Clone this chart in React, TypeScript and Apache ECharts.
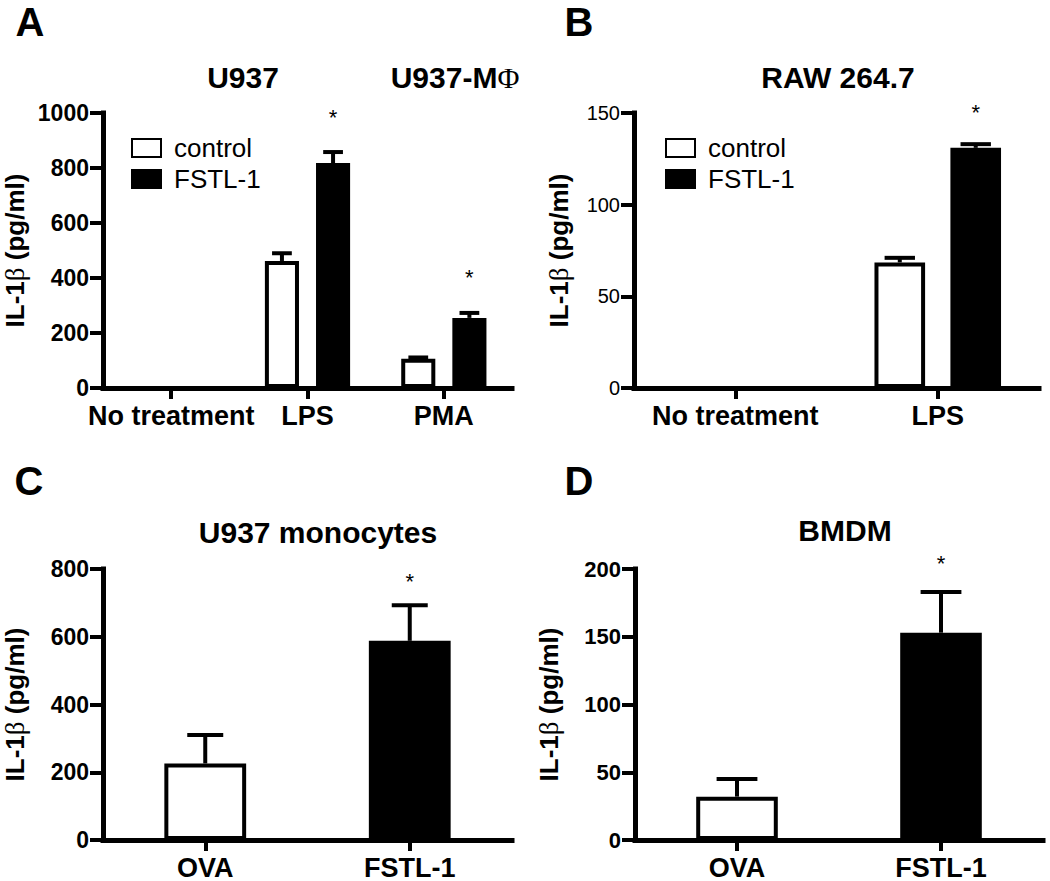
import React, { useEffect, useRef } from "react";
import * as echarts from "echarts";

// Panel A: U937 / U937-MΦ
const categoriesA = ["No treatment", "LPS", "PMA"];
const controlA = [0, 462, 106];
const controlErrA = [0, 28, 5];
const fstlA = [0, 818, 255];
const fstlErrA = [0, 40, 18];
const sigFstlA = [false, true, true];

// Panel B: RAW 264.7
const categoriesB = ["No treatment", "LPS"];
const controlB = [0, 68.5];
const controlErrB = [0, 2.5];
const fstlB = [0, 131];
const fstlErrB = [0, 2];
const sigFstlB = [false, true];

// Panel C: U937 monocytes
const categoriesC = ["OVA", "FSTL-1"];
const valuesC = [226, 588];
const errC = [84, 105];
const sigC = [false, true];

// Panel D: BMDM
const categoriesD = ["OVA", "FSTL-1"];
const valuesD = [32, 153];
const errD = [13, 30];
const sigD = [false, true];

const yTicksA = { min: 0, max: 1000, interval: 200 };
const yTicksB = { min: 0, max: 150, interval: 50 };
const yTicksC = { min: 0, max: 800, interval: 200 };
const yTicksD = { min: 0, max: 200, interval: 50 };

const FONT = "'Liberation Sans', Arial, Helvetica, sans-serif";
const SERIF = "'Liberation Serif', 'DejaVu Serif', serif";
const YNAME = "IL-1{g|β} (pg/ml)";

function errorSeries(
  idx: number,
  values: number[],
  errs: number[],
  sigs: boolean[],
  slot: number,
  nSlots: number,
  barFrac: number,
  gapFrac: number,
  capFrac: number,
  starGap: number
) {
  return {
    type: "custom",
    xAxisIndex: idx,
    yAxisIndex: idx,
    z: 5,
    clip: false,
    silent: true,
    data: values.map((v, i) => [i, v, errs[i], sigs[i] ? 1 : 0]),
    renderItem: (params: any, api: any) => {
      const i = api.value(0);
      const v = api.value(1);
      const e = api.value(2);
      const s = api.value(3);
      const base = api.coord([i, v]);
      const top = api.coord([i, v + e]);
      const band = api.size([1, 0])[0];
      const bw = band * barFrac;
      const gap = bw * gapFrac;
      const total = nSlots * bw + (nSlots - 1) * gap;
      const cx = base[0] - total / 2 + bw / 2 + slot * (bw + gap);
      const cap = bw * capFrac;
      const children: any[] = [];
      if (e > 0) {
        children.push({
          type: "line",
          shape: { x1: cx, y1: base[1], x2: cx, y2: top[1] },
          style: { stroke: "#000", lineWidth: 4 },
        });
        children.push({
          type: "line",
          shape: { x1: cx - cap / 2, y1: top[1], x2: cx + cap / 2, y2: top[1] },
          style: { stroke: "#000", lineWidth: 4 },
        });
      }
      if (s) {
        children.push({
          type: "text",
          x: cx,
          y: top[1] - starGap + 5,
          style: {
            text: "*",
            fontSize: 22,
            fontFamily: FONT,
            fill: "#000",
            align: "center",
            verticalAlign: "middle",
          },
        });
      }
      return { type: "group", children };
    },
  };
}

function xAxis(idx: number, cats: string[]) {
  return {
    type: "category",
    gridIndex: idx,
    data: cats,
    axisLine: { show: true, lineStyle: { color: "#000", width: 5, cap: "square" } },
    axisTick: { show: true, alignWithLabel: true, interval: 0, length: 11, lineStyle: { color: "#000", width: 4 } },
    axisLabel: { color: "#000", fontSize: 27, fontWeight: "bold", fontFamily: FONT, margin: 14, interval: 0 },
    splitLine: { show: false },
  };
}

function yAxis(idx: number, t: any, gap: number, labelSize: number, labelWeight: string) {
  return {
    type: "value",
    gridIndex: idx,
    min: t.min,
    max: t.max,
    interval: t.interval,
    name: YNAME,
    nameLocation: "middle",
    nameGap: gap,
    nameTextStyle: {
      color: "#000",
      fontSize: 26,
      fontWeight: "bold",
      fontFamily: FONT,
      rich: { g: { color: "#000", fontSize: 27, fontWeight: "normal", fontFamily: SERIF } },
    },
    axisLine: { show: true, lineStyle: { color: "#000", width: 5, cap: "square" } },
    axisTick: { show: true, inside: false, length: 13, lineStyle: { color: "#000", width: 4 } },
    axisLabel: {
      color: "#000",
      fontSize: labelSize,
      fontWeight: labelWeight,
      fontFamily: FONT,
      margin: 14,
      formatter: (v: number) => String(v),
    },
    splitLine: { show: false },
  };
}

const whiteBar = { color: "#fff", borderColor: "#000", borderWidth: 4 };
const blackBar = { color: "#000", borderColor: "#000", borderWidth: 4 };

function legend(left: number, top: number) {
  return {
    left,
    top,
    orient: "vertical",
    icon: "rect",
    itemWidth: 29,
    itemHeight: 18,
    itemGap: 5,
    selectedMode: false,
    data: ["control", "FSTL-1"],
    textStyle: { color: "#000", fontSize: 26, fontFamily: FONT, padding: [0, 0, 0, 8] },
  };
}

function titleText(x: number, y: number, text: string, size: number) {
  return {
    type: "text",
    x,
    y,
    style: {
      text,
      fontSize: size,
      fontWeight: "bold",
      fontFamily: FONT,
      fill: "#000",
      align: "center",
      verticalAlign: "middle",
      rich: { g: { fontSize: size, fontWeight: "normal", fontFamily: SERIF, fill: "#000" } },
    },
  };
}

function letter(x: number, y: number, text: string) {
  return {
    type: "text",
    x,
    y,
    style: { text, fontSize: 40, fontWeight: "bold", fontFamily: FONT, fill: "#000", align: "center", verticalAlign: "top" },
  };
}

export default function App() {
  const ref = useRef<HTMLDivElement>(null);
  useEffect(() => {
    if (!ref.current) return;
    const chart = echarts.init(ref.current, null, { renderer: "svg" });
    chart.setOption({
      animation: false,
      backgroundColor: "#fff",
      grid: [
        { left: 100, top: 113, width: 412, height: 275 },
        { left: 634, top: 113, width: 405, height: 275 },
        { left: 99, top: 569, width: 413, height: 276 },
        { left: 635, top: 569, width: 408, height: 275 },
      ],
      legend: [legend(126, 130), legend(660, 130)],
      xAxis: [xAxis(0, categoriesA), xAxis(1, categoriesB), xAxis(2, categoriesC), xAxis(3, categoriesD)],
      yAxis: [
        yAxis(0, yTicksA, 75, 23, "bold"),
        yAxis(1, yTicksB, 62, 20, "normal"),
        yAxis(2, yTicksC, 75, 23, "bold"),
        yAxis(3, yTicksD, 73, 22, "bold"),
      ],
      series: [
        { type: "bar", name: "control", xAxisIndex: 0, yAxisIndex: 0, data: controlA, barWidth: "25%", barGap: "50%", itemStyle: whiteBar },
        { type: "bar", name: "FSTL-1", xAxisIndex: 0, yAxisIndex: 0, data: fstlA, barWidth: "25%", barGap: "50%", itemStyle: blackBar },
        errorSeries(0, controlA, controlErrA, [false, false, false], 0, 2, 0.25, 0.5, 0.58, 40),
        errorSeries(0, fstlA, fstlErrA, sigFstlA, 1, 2, 0.25, 0.5, 0.58, 40),

        { type: "bar", name: "control", xAxisIndex: 1, yAxisIndex: 1, data: controlB, barWidth: "25%", barGap: "50%", itemStyle: whiteBar },
        { type: "bar", name: "FSTL-1", xAxisIndex: 1, yAxisIndex: 1, data: fstlB, barWidth: "25%", barGap: "50%", itemStyle: blackBar },
        errorSeries(1, controlB, controlErrB, [false, false], 0, 2, 0.25, 0.5, 0.6, 37),
        errorSeries(1, fstlB, fstlErrB, sigFstlB, 1, 2, 0.25, 0.5, 0.6, 37),

        {
          type: "bar",
          name: "U937 monocytes",
          xAxisIndex: 2,
          yAxisIndex: 2,
          barWidth: "40%",
          data: valuesC.map((v, i) => ({ value: v, itemStyle: i === 0 ? whiteBar : blackBar })),
        },
        errorSeries(2, valuesC, errC, sigC, 0, 1, 0.4, 0, 0.44, 29),

        {
          type: "bar",
          name: "BMDM",
          xAxisIndex: 3,
          yAxisIndex: 3,
          barWidth: "40%",
          data: valuesD.map((v, i) => ({ value: v, itemStyle: i === 0 ? whiteBar : blackBar })),
        },
        errorSeries(3, valuesD, errD, sigD, 0, 1, 0.4, 0, 0.5, 34),
      ],
      graphic: [
        letter(30, 2, "A"),
        letter(579, 2, "B"),
        letter(29, 461, "C"),
        letter(579, 461, "D"),
        titleText(243, 77, "U937", 30),
        titleText(455, 77, "U937-M{g|Φ}", 30),
        titleText(838, 77, "RAW 264.7", 30),
        titleText(318, 532, "U937 monocytes", 30),
        titleText(845, 530, "BMDM", 30),
      ],
    });
    return () => chart.dispose();
  }, []);
  return (
    <div
      ref={ref}
      style={{ position: "absolute", left: 0, top: 0, width: 1050, height: 881, background: "#fff" }}
    />
  );
}
